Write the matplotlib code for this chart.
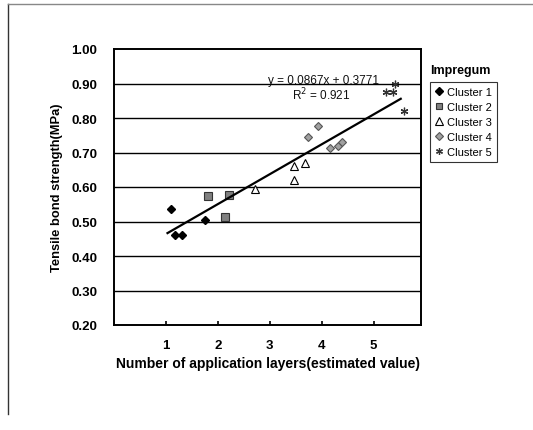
import matplotlib
matplotlib.use("Agg")
import matplotlib.pyplot as plt
from matplotlib.lines import Line2D
import numpy as np

plt.rcParams['font.family'] = ['Liberation Sans', 'DejaVu Sans']

# Data
c1_x = [1.10, 1.18, 1.30, 1.75]
c1_y = [0.537, 0.460, 0.460, 0.505]
c2_x = [1.80, 2.22, 2.14]
c2_y = [0.573, 0.578, 0.513]
c3_x = [2.72, 3.46, 3.68, 3.46]
c3_y = [0.594, 0.662, 0.670, 0.619]
c4_x = [3.93, 3.73, 4.15, 4.31, 4.38]
c4_y = [0.777, 0.745, 0.713, 0.720, 0.729]
c5_x = [5.23, 5.37, 5.41, 5.59]
c5_y = [0.874, 0.874, 0.898, 0.820]
slope, intercept, r2 = 0.0867, 0.3771, 0.921
fit_range = [1.03, 5.52]
x_ticks = [1, 2, 3, 4, 5]
y_ticks = [0.20, 0.30, 0.40, 0.50, 0.60, 0.70, 0.80, 0.90, 1.00]

W, H = 533, 431
fig = plt.figure(figsize=(W / 100, H / 100), dpi=100)
ax = fig.add_axes([114 / W, 1 - 326 / H, (421 - 114) / W, (326 - 50) / H])

ax.set_xlim(0, 5.91)
ax.set_ylim(0.2, 1.0)
for v in y_ticks[1:-1]:
    ax.axhline(v, color='black', lw=1.0, zorder=1)

h1, = ax.plot(c1_x, c1_y, 'D', ms=4.5, color='black', mec='black', ls='none', zorder=3, label='Cluster 1')
h2, = ax.plot(c2_x, c2_y, 's', ms=5.2, color='#808080', mec='#333333', mew=0.8, ls='none', zorder=3, label='Cluster 2')
h3, = ax.plot(c3_x, c3_y, '^', ms=5.8, color='white', mec='black', mew=0.8, ls='none', zorder=3, label='Cluster 3')
h4, = ax.plot(c4_x, c4_y, 'D', ms=4.5, color='#a0a0a0', mec='#555555', mew=0.8, ls='none', zorder=3, label='Cluster 4')
h5, = ax.plot(c5_x, c5_y, marker=(6, 2, 0), ms=5.5, color='#333333', mew=0.9, ls='none', zorder=3, label='Cluster 5')

fx = np.array(fit_range)
ax.plot(fx, slope * fx + intercept, color='black', lw=1.6, zorder=4)

ax.text((323 - 114) / (421 - 114), 1 - (80.7 - 50) / 276, f"y = {slope}x + {intercept}",
        transform=ax.transAxes, ha='center', va='center', fontsize=8.5, color='#111111')
ax.text((321 - 114) / (421 - 114), 1 - (95 - 50) / 276, f"R$^2$ = {r2}",
        transform=ax.transAxes, ha='center', va='center', fontsize=8.5, color='#111111')

ax.set_xticks(x_ticks)
ax.set_xticklabels([str(t) for t in x_ticks], fontsize=9.5, fontweight='bold')
ax.set_yticks(y_ticks)
ax.set_yticklabels([f"{t:.2f}" for t in y_ticks], fontsize=9.5, fontweight='bold')
ax.tick_params(axis='x', direction='in', length=3, width=1.2, pad=10)
ax.tick_params(axis='y', length=0, pad=12)
for s in ax.spines.values():
    s.set_linewidth(1.4)
    s.set_color('black')

ax.set_xlabel('Number of application layers(estimated value)', fontsize=10, fontweight='bold', labelpad=4)
ax.set_ylabel('Tensile bond strength(MPa)', fontsize=9.3, fontweight='bold', labelpad=6)

fig.text(430 / W, 1 - 70.7 / H, 'Impregum', fontsize=9, fontweight='bold', ha='left', va='center')
leg = fig.legend(handles=[h1, h2, h3, h4, h5], loc='upper left',
                 bbox_to_anchor=(430 / W, 1 - 83 / H), borderaxespad=0,
                 frameon=True, fancybox=False, edgecolor='black', fontsize=8,
                 handlelength=0.8, handletextpad=0.3, labelspacing=0.45, borderpad=0.45,
                 markerscale=0.9)
leg.get_frame().set_linewidth(0.8)

# outer chart border (left and top visible)
fig.add_artist(Line2D([8 / W, 8 / W], [1 - 5 / H, 1 - 415 / H], transform=fig.transFigure, color='#333333', lw=1.0))
fig.add_artist(Line2D([8 / W, 1.0], [1 - 5 / H, 1 - 5 / H], transform=fig.transFigure, color='#888888', lw=1.0))

fig.savefig('out.png', dpi=100)
